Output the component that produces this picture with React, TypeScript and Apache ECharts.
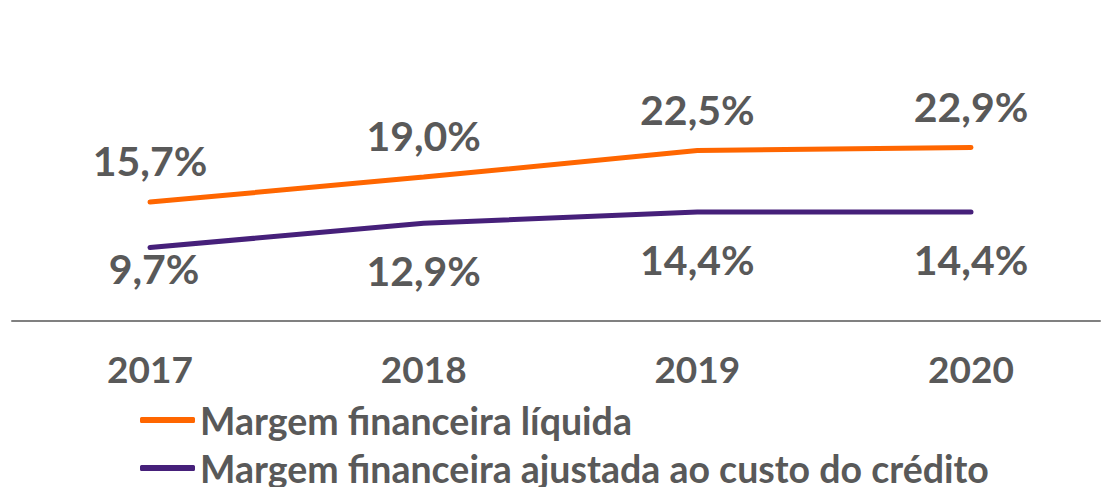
import React, { useEffect, useRef } from "react";
import * as echarts from "echarts";

const years = ["2017", "2018", "2019", "2020"];
const margemLiquida = [15.7, 19.0, 22.5, 22.9];
const margemAjustada = [9.7, 12.9, 14.4, 14.4];
const seriesNames = [
  "Margem financeira líquida",
  "Margem financeira ajustada ao custo do crédito",
];

const fmt = (v: number) => v.toFixed(1).replace(".", ",") + "%";
const FONT = "Lato, 'Open Sans', sans-serif";
const GRAY = "#595959";

export default function App() {
  const ref = useRef<HTMLDivElement>(null);
  useEffect(() => {
    if (!ref.current) return;
    const chart = echarts.init(ref.current, undefined, { renderer: "svg" });
    const labelBase = {
      show: true,
      formatter: (p: any) => fmt(p.value),
      color: GRAY,
      fontSize: 41,
      fontWeight: "bold",
      fontFamily: FONT,
      lineHeight: 40,
    };
    chart.setOption({
      animation: false,
      textStyle: { fontFamily: FONT },
      grid: [
        { left: 150, width: 821, top: 18, height: 303 },
        { left: 12, right: 2, top: 18, height: 303 },
      ],
      xAxis: [
        {
          type: "category",
          gridIndex: 0,
          data: years,
          boundaryGap: false,
          axisLine: { show: false },
          axisTick: { show: false },
          axisLabel: {
            color: GRAY,
            fontSize: 37,
            fontWeight: "bold",
            fontFamily: FONT,
            margin: 29,
          },
        },
        {
          type: "value",
          gridIndex: 1,
          min: 0,
          max: 1,
          axisLine: { show: true, lineStyle: { color: "#808080", width: 2 } },
          axisTick: { show: false },
          axisLabel: { show: false },
          splitLine: { show: false },
        },
      ],
      yAxis: [
        { type: "value", gridIndex: 0, min: 0, max: 40, show: false, splitLine: { show: false } },
        { type: "value", gridIndex: 1, min: 0, max: 40, show: false, splitLine: { show: false } },
      ],
      legend: {
        orient: "vertical",
        left: 140,
        top: 401,
        padding: 0,
        itemWidth: 55,
        itemHeight: 6,
        itemGap: 10,
        icon: "roundRect",
        data: seriesNames,
        textStyle: {
          color: GRAY,
          fontSize: 37.5,
          fontWeight: "bold",
          fontFamily: FONT,
          lineHeight: 38,
        },
      },
      series: [
        {
          name: seriesNames[0],
          type: "line",
          data: margemLiquida,
          symbol: "circle",
          symbolSize: 1,
          showSymbol: true,
          color: "#FF6600",
          itemStyle: { color: "#FF6600" },
          lineStyle: { width: 5, cap: "round", color: "#FF6600" },
          label: { ...labelBase, position: "top", distance: 21 },
        },
        {
          name: seriesNames[1],
          type: "line",
          data: margemAjustada.map((v, i) =>
            i === 0 ? { value: v, label: { offset: [4, -27] } } : v
          ),
          symbol: "circle",
          symbolSize: 1,
          showSymbol: true,
          color: "#46207A",
          itemStyle: { color: "#46207A" },
          lineStyle: { width: 5, cap: "round", color: "#46207A" },
          label: { ...labelBase, position: "bottom", distance: 27 },
        },
      ],
    });
    return () => chart.dispose();
  }, []);
  return (
    <div
      ref={ref}
      style={{ position: "fixed", left: 0, top: 0, width: 1102, height: 487, background: "#fff" }}
    />
  );
}
